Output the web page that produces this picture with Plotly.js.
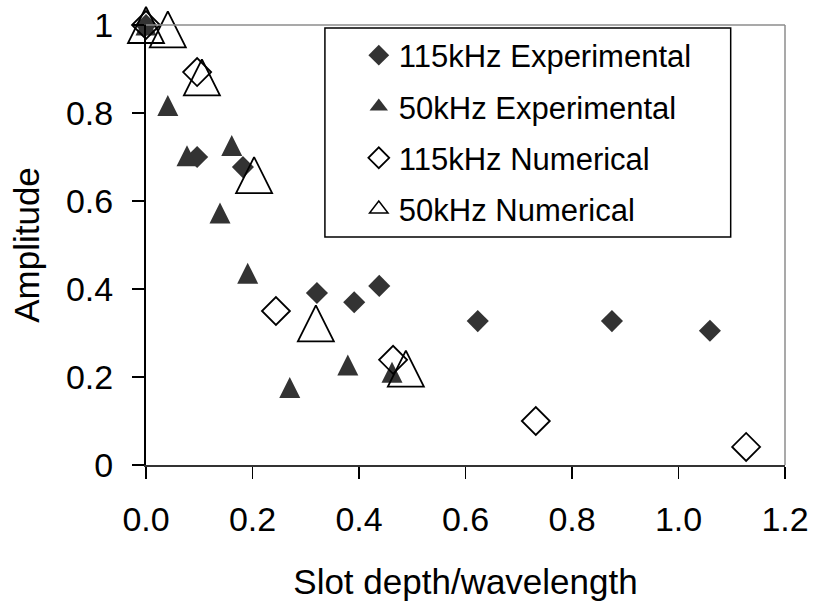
<!DOCTYPE html>
<html>
<head>
<meta charset="utf-8">
<script src="https://cdn.plot.ly/plotly-3.0.1.min.js"></script>
<style>
  html, body { margin: 0; padding: 0; background: #ffffff; }
  #chart { width: 817px; height: 607px; }
</style>
</head>
<body>
<div id="chart"></div>
<script>
// Series names
const seriesNames = ["115kHz Experimental", "50kHz Experimental", "115kHz Numerical", "50kHz Numerical"];

// 115kHz Experimental
const exp115X = [0.0, 0.096, 0.182, 0.321, 0.391, 0.438, 0.623, 0.875, 1.059];
const exp115Y = [1.0, 0.700, 0.677, 0.391, 0.370, 0.407, 0.327, 0.327, 0.305];

// 50kHz Experimental
const exp50X = [0.0, 0.041, 0.077, 0.161, 0.139, 0.191, 0.270, 0.379, 0.462];
const exp50Y = [1.0, 0.817, 0.703, 0.726, 0.573, 0.436, 0.176, 0.227, 0.211];

// 115kHz Numerical
const num115X = [0.0, 0.096, 0.244, 0.464, 0.732, 1.127];
const num115Y = [1.0, 0.893, 0.350, 0.239, 0.100, 0.041];

// 50kHz Numerical
const num50X = [0.0, 0.041, 0.105, 0.203, 0.319, 0.488];
const num50Y = [1.0, 0.990, 0.881, 0.659, 0.322, 0.219];

// Axis ticks
const xTicks = [0.0, 0.2, 0.4, 0.6, 0.8, 1.0, 1.2];
const yTicks = [0, 0.2, 0.4, 0.6, 0.8, 1];

const FONT = "'Liberation Sans', Arial, sans-serif";
const DARK = "#333333";

// Equal-sided upward triangle: arrow-down rotated 180deg, shifted by half its size so it is centred on the point
const traces = [
  {
    x: exp115X, y: exp115Y, name: seriesNames[0], type: "scatter", mode: "markers",
    legendgroup: "g1", cliponaxis: false,
    marker: { symbol: "diamond", size: 17, color: DARK, line: { width: 0 } }
  },
  {
    x: exp50X, y: exp50Y, name: seriesNames[1], type: "scatter", mode: "markers",
    legendgroup: "g2", showlegend: false, cliponaxis: false,
    marker: { symbol: "arrow-down", angle: 180, size: 21, standoff: 10.5, color: DARK, line: { width: 0 } }
  },
  // legend entry only (no data)
  {
    x: [null], y: [null], name: seriesNames[1], type: "scatter", mode: "markers",
    legendgroup: "g2", showlegend: true,
    marker: { symbol: "triangle-up", size: 16, color: DARK, line: { width: 0 } }
  },
  {
    x: num115X, y: num115Y, name: seriesNames[2], type: "scatter", mode: "markers",
    legendgroup: "g3", cliponaxis: false,
    marker: { symbol: "diamond-open", size: 21.5, color: "#000000", line: { width: 1.8, color: "#000000" } }
  },
  {
    x: num50X, y: num50Y, name: seriesNames[3], type: "scatter", mode: "markers",
    legendgroup: "g4", showlegend: false, cliponaxis: false,
    marker: { symbol: "arrow-down-open", angle: 180, size: 36, standoff: 18, color: "#000000", line: { width: 1.8, color: "#000000" } }
  },
  // legend entry only (no data)
  {
    x: [null], y: [null], name: seriesNames[3], type: "scatter", mode: "markers",
    legendgroup: "g4", showlegend: true,
    marker: { symbol: "triangle-up-open", size: 16, color: "#000000", line: { width: 1.5, color: "#000000" } }
  }
];

const layout = {
  width: 817,
  height: 607,
  margin: { l: 146, r: 32, t: 25, b: 142, pad: 0 },
  paper_bgcolor: "#ffffff",
  plot_bgcolor: "#ffffff",
  font: { family: FONT, color: "#000000", size: 34 },
  showlegend: true,
  legend: {
    x: 0.333, y: 0.992, xanchor: "left", yanchor: "top",
    bgcolor: "rgba(0,0,0,0)", borderwidth: 0,
    traceorder: "grouped", tracegroupgap: 8,
    font: { family: FONT, size: 31, color: "#000000" }
  },
  xaxis: {
    range: [0, 1.2],
    tickmode: "array", tickvals: xTicks, ticktext: xTicks.map(v => v.toFixed(1)),
    ticks: "outside", ticklen: 12, tickwidth: 1.5, tickcolor: "#000000",
    ticklabelstandoff: 11,
    showline: true, linecolor: "#333333", linewidth: 2,
    showgrid: false, zeroline: false,
    tickfont: { family: FONT, size: 34 },
    title: { text: "Slot depth/wavelength", font: { family: FONT, size: 35 }, standoff: 33 },
    automargin: false
  },
  yaxis: {
    range: [0, 1],
    tickmode: "array", tickvals: yTicks, ticktext: yTicks.map(v => String(v)),
    ticks: "outside", ticklen: 12, tickwidth: 1.5, tickcolor: "#000000",
    ticklabelstandoff: 12,
    showline: true, linecolor: "#000000", linewidth: 2,
    showgrid: false, zeroline: false,
    tickfont: { family: FONT, size: 34 },
    title: { text: "Amplitude", font: { family: FONT, size: 35 }, standoff: 16 },
    automargin: false
  },
  shapes: [
    { type: "line", xref: "paper", yref: "paper", x0: 0, x1: 1, y0: 1, y1: 1, line: { color: "#8c8c8c", width: 1.5 } },
    { type: "line", xref: "paper", yref: "paper", x0: 1, x1: 1, y0: 0, y1: 1, line: { color: "#8c8c8c", width: 1.5 } },
    { type: "rect", xref: "paper", yref: "paper", x0: 0.28, x1: 0.915, y0: 0.518, y1: 0.9932,
      line: { color: "#000000", width: 1.5 }, fillcolor: "rgba(0,0,0,0)", layer: "below" }
  ]
};

Plotly.newPlot("chart", traces, layout, { staticPlot: true, displayModeBar: false });
</script>
</body>
</html>
